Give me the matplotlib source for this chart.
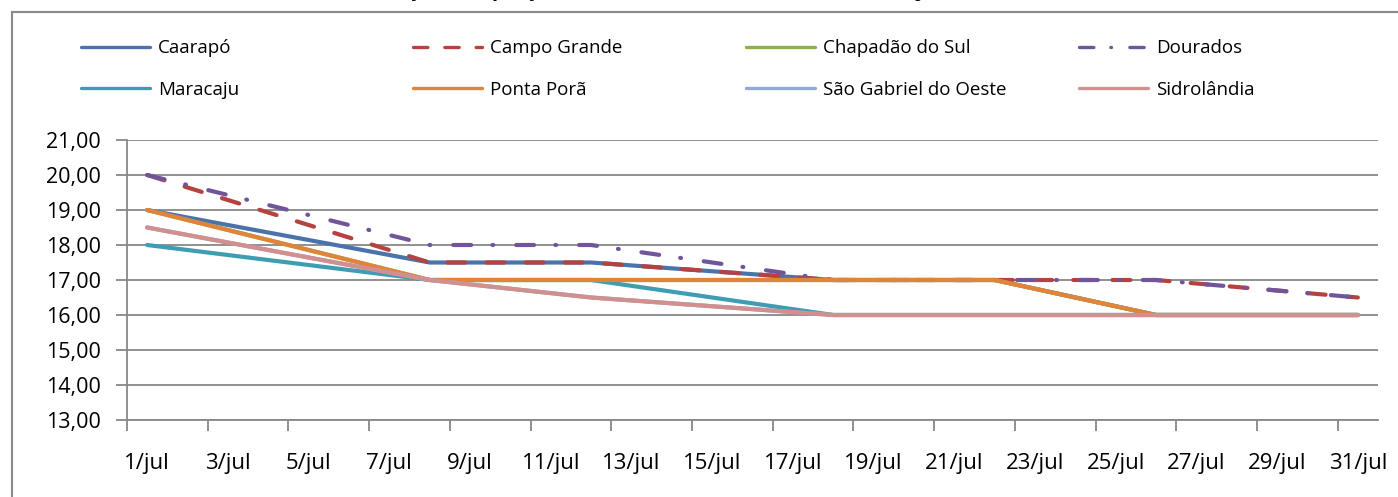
import matplotlib
matplotlib.use("Agg")
import matplotlib.pyplot as plt
from matplotlib.patches import Rectangle

plt.rcParams['font.family'] = ['Open Sans', 'DejaVu Sans']

# datas com cotação (dia de julho)
dias = [1, 8, 12, 18, 22, 26, 31]

caarapo = [19.0, 17.5, 17.5, 17.0, 17.0, 16.0, 16.0]
campo_grande = [20.0, 17.5, 17.5, 17.0, 17.0, 17.0, 16.5]
chapadao = [19.0, 17.0, 17.0, 17.0, 17.0, 16.0, 16.0]
dourados = [20.0, 18.0, 18.0, 17.0, 17.0, 17.0, 16.5]
maracaju = [18.0, 17.0, 17.0, 16.0, 16.0, 16.0, 16.0]
ponta_pora = [19.0, 17.0, 17.0, 17.0, 17.0, 16.0, 16.0]
sao_gabriel = [18.5, 17.0, 16.5, 16.0, 16.0, 16.0, 16.0]
sidrolandia = [18.5, 17.0, 16.5, 16.0, 16.0, 16.0, 16.0]

rotulos_x = [f"{d}/jul" for d in range(1, 32, 2)]
valores_y = list(range(13, 22))

W, H = 1398, 497
fig = plt.figure(figsize=(W / 100, H / 100), dpi=100)
ax = fig.add_axes([127 / W, 1 - 420 / H, (1378 - 127) / W, (420 - 140) / H])

series = [
    ("Caarapó", caarapo, "#4A73AC", None),
    ("Campo Grande", campo_grande, "#B5423F", (4.3, 5.1)),
    ("Chapadão do Sul", chapadao, "#8DB04F", None),
    ("Dourados", dourados, "#70559A", (4.3, 5.1, 0.2, 5.5)),
    ("Maracaju", maracaju, "#3E9DB3", None),
    ("Ponta Porã", ponta_pora, "#E0843A", None),
    ("São Gabriel do Oeste", sao_gabriel, "#90ABD6", None),
    ("Sidrolândia", sidrolandia, "#D38E8E", None),
]

linhas = []
for nome, valores, cor, traco in series:
    ln, = ax.plot(dias, valores, color=cor, lw=3, label=nome,
                  solid_capstyle='round', dash_capstyle='round', zorder=3)
    if traco is not None:
        ln.set_dashes(traco)
    linhas.append(ln)

cinza = "#888888"
ax.set_xlim(0.5, 31.5)
ax.set_ylim(13, 21)
ax.set_yticks(valores_y)
ax.set_yticklabels([f"{v:.2f}".replace(".", ",") for v in valores_y])
ax.set_xticks(list(range(1, 32, 2)))
ax.set_xticklabels(rotulos_x)
ax.set_xticks([0.5 + 2 * k for k in range(16)], minor=True)
ax.tick_params(axis='x', which='major', length=0, pad=24, labelsize=16)
ax.tick_params(axis='x', which='minor', length=8, width=1.3, color=cinza)
ax.tick_params(axis='y', length=8, width=1.3, color=cinza, pad=11, labelsize=15.5)
ax.grid(axis='y', color=cinza, lw=1.3, zorder=1)
for s in ['top', 'right']:
    ax.spines[s].set_visible(False)
for s in ['left', 'bottom']:
    ax.spines[s].set_color(cinza)
    ax.spines[s].set_linewidth(1.3)

# legenda em 4 colunas com espaçamento igual
colunas_x = [81, 413, 746, 1079]
for i, x in enumerate(colunas_x):
    par = [linhas[i], linhas[i + 4]]
    leg = fig.legend(par, [l.get_label() for l in par], loc='center left',
                     bbox_to_anchor=(x / W, 1 - 69 / H), frameon=False,
                     borderpad=0, borderaxespad=0, handlelength=3.7,
                     handletextpad=0.4, labelspacing=1.25, fontsize=13.5)
    for l in leg.get_lines():
        l.set_linewidth(2.4)

fig.text(0.5, 1 + 4 / H, "Evolução dos preços do milho em Mato Grosso do Sul - julho (R$/sc)",
         ha='center', va='baseline', fontsize=15, fontweight='bold')

fig.add_artist(Rectangle((12 / W, -0.1), 1.2, 1.1 - 12 / H, transform=fig.transFigure,
                         fill=False, edgecolor="#8a8a8a", lw=1.5))

fig.savefig("out.png", dpi=100)
